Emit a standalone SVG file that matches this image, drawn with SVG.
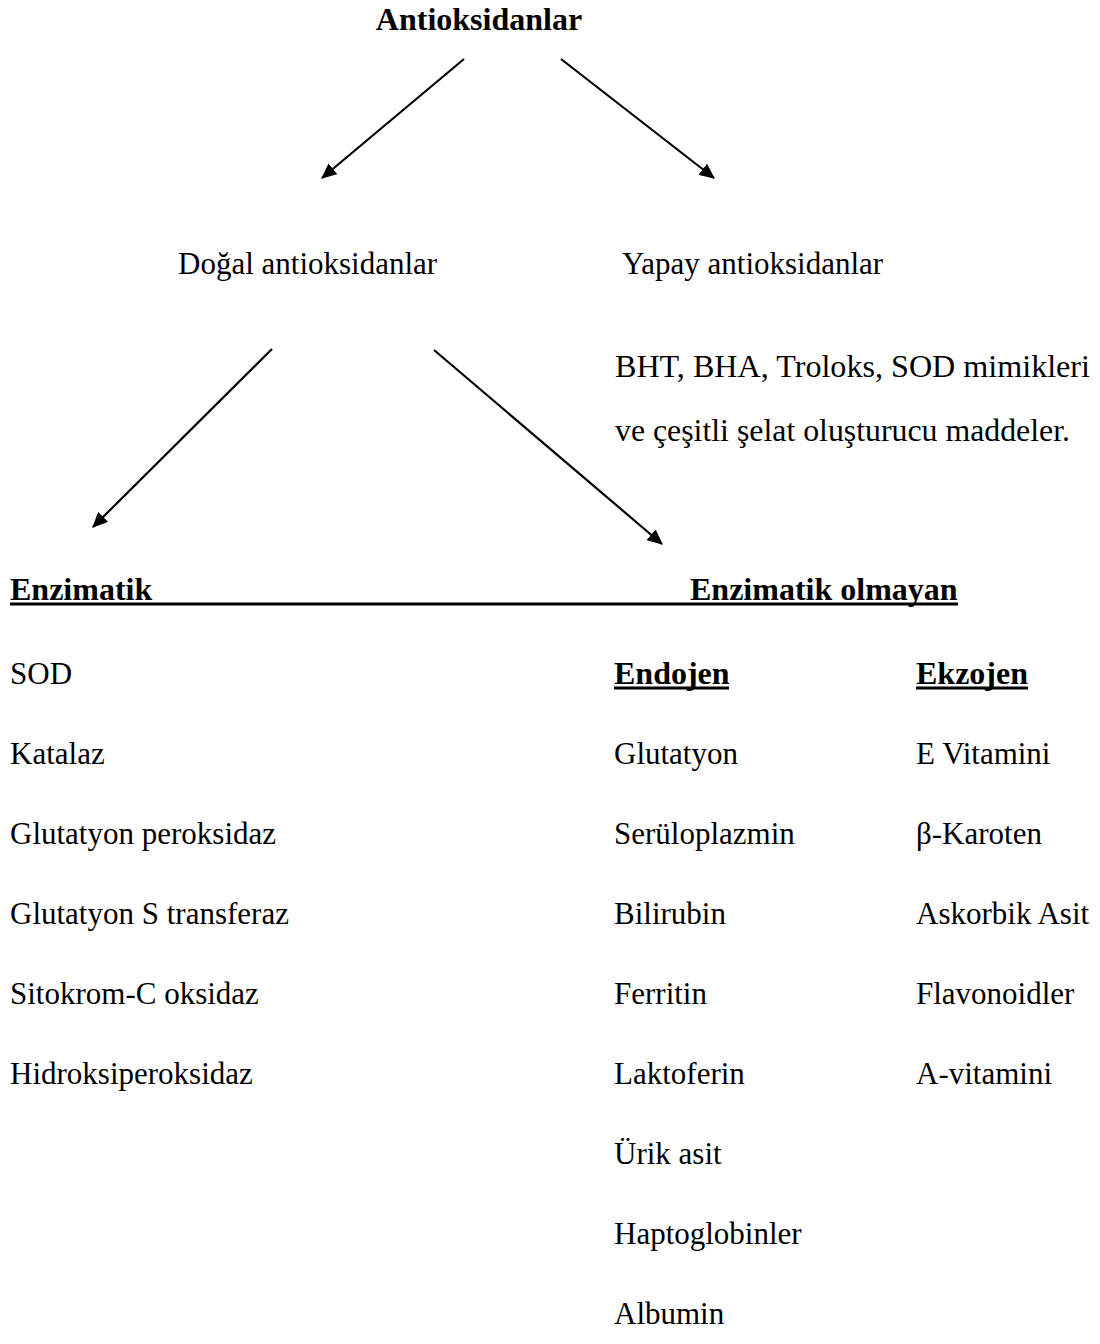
<svg xmlns="http://www.w3.org/2000/svg" width="1100" height="1344" viewBox="0 0 1100 1344">
<style>
text{font-family:"Liberation Serif","Times New Roman",serif;font-size:31px;fill:#000}
.b{font-weight:bold;font-size:32px}
.c{stroke:#000;stroke-width:2.2;fill:none}
.u{stroke:#000;stroke-width:3}
</style>
<defs>
<marker id="ah" markerWidth="7" markerHeight="6.4" refX="6.5" refY="3.2" orient="auto" markerUnits="strokeWidth">
<path d="M0,0 L7,3.2 L0,6.4 Z" fill="#000"/>
</marker>
</defs>
<rect width="1100" height="1344" fill="#fff"/>
<g id="connectors">
<line class="c" x1="464" y1="59" x2="322" y2="178" marker-end="url(#ah)"/>
<line class="c" x1="561" y1="59" x2="714" y2="178" marker-end="url(#ah)"/>
<line class="c" x1="272" y1="349" x2="93" y2="527" marker-end="url(#ah)"/>
<line class="c" x1="434" y1="350" x2="662" y2="544" marker-end="url(#ah)"/>
</g>
<g id="root"><text class="b" x="479" y="30" text-anchor="middle">Antioksidanlar</text></g>
<g id="dogal"><text x="178" y="274">Doğal antioksidanlar</text></g>
<g id="yapay">
<text x="622" y="274">Yapay antioksidanlar</text>
<text x="615" y="377" textLength="475" lengthAdjust="spacingAndGlyphs">BHT, BHA, Troloks, SOD mimikleri</text>
<text x="615" y="441" textLength="455" lengthAdjust="spacingAndGlyphs">ve çeşitli şelat oluşturucu maddeler.</text>
</g>
<g id="enzimatik">
<text class="b" x="10" y="600">Enzimatik</text>
<text x="10" y="684">SOD</text>
<text x="10" y="764">Katalaz</text>
<text x="10" y="844">Glutatyon peroksidaz</text>
<text x="10" y="924">Glutatyon S transferaz</text>
<text x="10" y="1004">Sitokrom-C oksidaz</text>
<text x="10" y="1084">Hidroksiperoksidaz</text>
</g>
<line class="u" x1="10" y1="604" x2="958" y2="604"/>
<g id="enzimatik-olmayan"><text class="b" x="690" y="600">Enzimatik olmayan</text></g>
<g id="endojen">
<text class="b" x="614" y="684">Endojen</text>
<line class="u" x1="614" y1="688" x2="729" y2="688"/>
<text x="614" y="764">Glutatyon</text>
<text x="614" y="844">Serüloplazmin</text>
<text x="614" y="924">Bilirubin</text>
<text x="614" y="1004">Ferritin</text>
<text x="614" y="1084">Laktoferin</text>
<text x="614" y="1164">Ürik asit</text>
<text x="614" y="1244">Haptoglobinler</text>
<text x="614" y="1324">Albumin</text>
</g>
<g id="ekzojen">
<text class="b" x="916" y="684">Ekzojen</text>
<line class="u" x1="916" y1="688" x2="1028" y2="688"/>
<text x="916" y="764">E Vitamini</text>
<text x="916" y="844">β-Karoten</text>
<text x="916" y="924">Askorbik Asit</text>
<text x="916" y="1004">Flavonoidler</text>
<text x="916" y="1084">A-vitamini</text>
</g>
</svg>
